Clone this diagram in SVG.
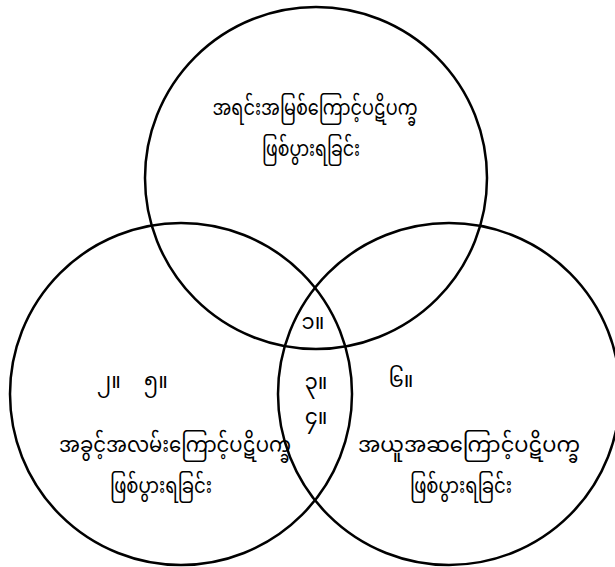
<svg xmlns="http://www.w3.org/2000/svg" width="615" height="567" viewBox="0 0 615 567">
<style>
.c{fill:none;stroke:#000;stroke-width:2.5}
.t{font-family:"Noto Sans Myanmar","Padauk","Myanmar Text","Noto Sans",sans-serif;font-size:22px;fill:#000;text-anchor:middle}
.n{font-family:"Noto Sans Myanmar","Padauk","Myanmar Text","Noto Sans",sans-serif;font-size:21px;fill:#000;text-anchor:middle}
</style>
<rect width="615" height="567" fill="#fff"/>
<g id="circle-top"><circle class="c" cx="316" cy="178" r="171"/>
<text class="t" x="315" y="115" textLength="205" lengthAdjust="spacingAndGlyphs">အရင်းအမြစ်ကြောင့်ပဋိပက္ခ</text>
<text class="t" x="311" y="156" textLength="98" lengthAdjust="spacingAndGlyphs">ဖြစ်ပွားရခြင်း</text></g>
<g id="circle-left"><circle class="c" cx="181" cy="394" r="171"/>
<text class="t" x="175" y="452" textLength="232" lengthAdjust="spacingAndGlyphs">အခွင့်အလမ်းကြောင့်ပဋိပက္ခ</text>
<text class="t" x="161" y="493" textLength="102" lengthAdjust="spacingAndGlyphs">ဖြစ်ပွားရခြင်း</text></g>
<g id="circle-right"><circle class="c" cx="449" cy="394" r="171"/>
<text class="t" x="469" y="452" textLength="222" lengthAdjust="spacingAndGlyphs">အယူအဆကြောင့်ပဋိပက္ခ</text>
<text class="t" x="461" y="493" textLength="102" lengthAdjust="spacingAndGlyphs">ဖြစ်ပွားရခြင်း</text></g>
<g id="labels">
<text class="n" x="313" y="329">၁။</text>
<text class="n" x="109" y="388">၂။</text>
<text class="n" x="156" y="388">၅။</text>
<text class="n" x="316" y="389">၃။</text>
<text class="n" x="316" y="424">၄။</text>
<text class="n" x="401" y="387">၆။</text>
</g>
</svg>
